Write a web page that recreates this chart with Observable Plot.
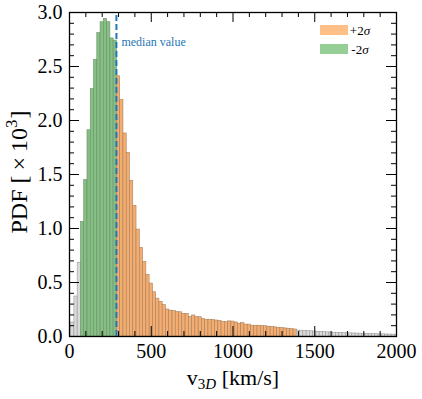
<!DOCTYPE html>
<html><head><meta charset="utf-8">
<script src="https://cdn.jsdelivr.net/npm/d3@7"></script>
<script src="https://cdn.jsdelivr.net/npm/@observablehq/plot@0.6"></script>
<style>body{margin:0;background:#fff}</style>
</head><body><div id="chart"></div>
<script>
// ---- data (PDF ×10^3 per 20 km/s bin) ----
const binStart = 10;
const binWidth = 20;
const grayLow = [0.13, 0.37, 0.68];
const greenVals = [1.06, 1.45, 1.91, 2.29, 2.56, 2.81, 2.91, 2.94, 2.91, 2.76, 2.74];
const orangeVals = [2.41, 2.19, 1.88, 1.70, 1.44, 1.21, 0.99, 0.82, 0.69, 0.57,
  0.49, 0.41, 0.35, 0.32, 0.29, 0.25, 0.24, 0.235, 0.226, 0.224,
  0.21, 0.21, 0.18, 0.195, 0.18, 0.178, 0.16, 0.155, 0.155, 0.152,
  0.148, 0.145, 0.133, 0.133, 0.14, 0.138, 0.13, 0.118, 0.124, 0.11,
  0.11, 0.10, 0.10, 0.10, 0.098, 0.095, 0.09, 0.088, 0.085, 0.08,
  0.078, 0.075, 0.072, 0.068, 0.065];
const grayHigh = [0.055, 0.053, 0.05, 0.05, 0.048, 0.046, 0.044, 0.042, 0.04, 0.038,
  0.037, 0.035, 0.034, 0.032, 0.031, 0.03, 0.029, 0.028, 0.027, 0.026,
  0.025, 0.024, 0.023, 0.022, 0.021, 0.02, 0.02, 0.019, 0.018, 0.017, 0.016];
const medianValue = 287;
const xTicks = [0, 500, 1000, 1500, 2000];
const xMinor = d3.range(0, 2001, 100);
const yTicks = [0, 0.5, 1.0, 1.5, 2.0, 2.5, 3.0];
const yMinor = d3.range(0, 31).map(d => d / 10);
const legendLabels = ["+2", "-2"];

// ---- layout ----
const W = 422, H = 399, ML = 69, MR = 26, MT = 12, MB = 63;
const kx = 2000 / (W - ML - MR);
const ky = 3 / (H - MT - MB);
const fillOf = {low: "#dadada", green: "#84bf83", orange: "#f4ac70", high: "#dadada"};
const strokeOf = {low: "#999", green: "#6f8f6c", orange: "#a8805c", high: "#999"};

const rows = [];
let i = 0;
for (const [g, arr] of [["low", grayLow], ["green", greenVals], ["orange", orangeVals], ["high", grayHigh]]) {
  for (const v of arr) {
    rows.push({x1: binStart + i * binWidth, x2: binStart + (i + 1) * binWidth, v, g});
    i++;
  }
}

const maj = 10, mnr = 5;
const plot = Plot.plot({
  width: W, height: H,
  marginLeft: ML, marginRight: MR, marginTop: MT, marginBottom: MB,
  style: {fontFamily: "Liberation Serif, serif", fontSize: "20px", background: "#fff", color: "#000"},
  x: {domain: [0, 2000]},
  y: {domain: [0, 3]},
  marks: [
    Plot.rectY(rows, {x1: "x1", x2: "x2", y: "v", fill: d => fillOf[d.g], stroke: d => strokeOf[d.g], strokeWidth: 0.6, clip: true}),
    Plot.ruleX([medianValue], {x: d => d, y1: 0, y2: 3, stroke: "#1f77b4", strokeWidth: 2, strokeDasharray: "6,3"}),
    Plot.text([medianValue], {x: d => d, y: 2.73, text: () => "median value", dx: 5, textAnchor: "start", fill: "#1f77b4", fontSize: 12}),
    // inward ticks, bottom & top
    Plot.ruleX(xMinor, {x: d => d, y1: 0, y2: (d) => (d % 500 === 0 ? maj : mnr) * ky, stroke: "#000"}),
    Plot.ruleX(xMinor, {x: d => d, y1: 3, y2: (d) => 3 - (d % 500 === 0 ? maj : mnr) * ky, stroke: "#000"}),
    // inward ticks, left & right
    Plot.ruleY(yMinor, {y: d => d, x1: 0, x2: (d) => (Math.round(d * 10) % 5 === 0 ? maj : mnr) * kx, stroke: "#000"}),
    Plot.ruleY(yMinor, {y: d => d, x1: 2000, x2: (d) => 2000 - (Math.round(d * 10) % 5 === 0 ? maj : mnr) * kx, stroke: "#000"}),
    Plot.axisX({ticks: xTicks, tickSize: 0, tickPadding: 7, label: null, tickFormat: d3.format("d")}),
    Plot.axisY({ticks: yTicks, tickSize: 0, tickPadding: 7, label: null, tickFormat: d3.format(".1f")}),
    Plot.frame({stroke: "#000", strokeWidth: 1.3})
  ]
});
document.getElementById("chart").append(plot);

// ---- axis titles and legend ----
const svg = d3.select(plot);
const yl = svg.append("text")
  .attr("transform", `translate(27,172) rotate(-90)`)
  .attr("text-anchor", "middle").attr("font-size", 24).attr("fill", "#000");
yl.append("tspan").text("PDF [");
yl.append("tspan").attr("dx", 5).text("×");
yl.append("tspan").attr("dx", 5).text("10");
yl.append("tspan").attr("font-size", 17).attr("dy", -10).text("3");
yl.append("tspan").attr("dy", 10).attr("dx", 1).text("]");

const xl = svg.append("text")
  .attr("x", 233).attr("y", 385)
  .attr("text-anchor", "middle").attr("font-size", 22).attr("fill", "#000");
xl.append("tspan").text("v");
xl.append("tspan").attr("font-size", 15).attr("dy", 4).text("3");
xl.append("tspan").attr("font-size", 15).attr("font-style", "italic").text("D");
xl.append("tspan").attr("dy", -4).text(" [km/s]");

const legFill = ["#ffbf87", "#95cf95"];
legendLabels.forEach((lab, j) => {
  const y = 25 + j * 19;
  svg.append("rect").attr("x", 320).attr("y", y).attr("width", 28).attr("height", 10).attr("fill", legFill[j]);
  const t = svg.append("text").attr("x", 360).attr("y", y + 9.5).attr("font-size", 13).attr("fill", "#000");
  t.append("tspan").text(lab);
  t.append("tspan").attr("font-style", "italic").text("σ");
});
</script></body></html>
